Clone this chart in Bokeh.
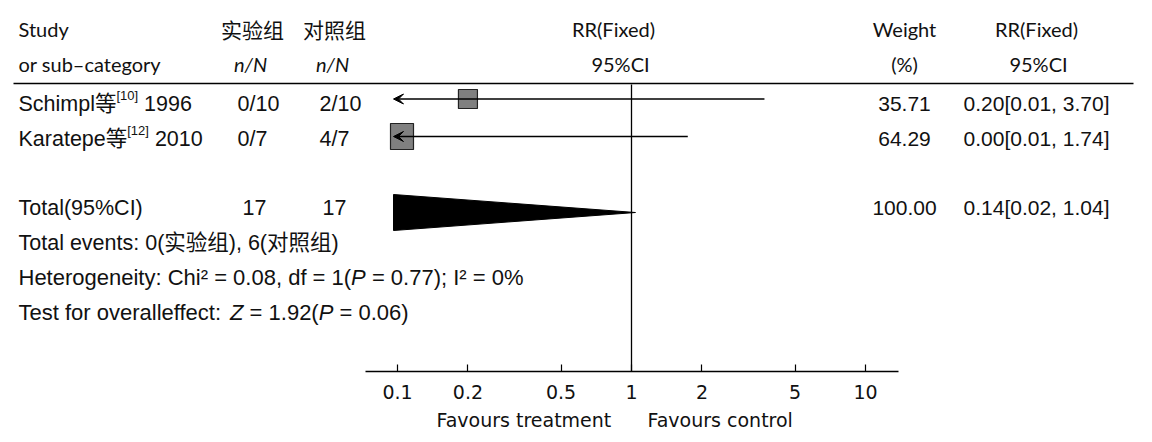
from bokeh.plotting import figure
from bokeh.models import (Range1d, LogScale, LogAxis, FixedTicker, CustomJSTickFormatter,
                          ColumnDataSource, Arrow, VeeHead, Title)
from bokeh.core.properties import value
from bokeh.embed import file_html
from bokeh.resources import INLINE

# ---------------- data ----------------
study_names = ["Schimpl等", "Karatepe等"]
study_refs = ["[10]", "[12]"]
study_years = ["1996", "2010"]
exp_events = [0, 0]
exp_total = [10, 7]
ctrl_events = [2, 4]
ctrl_total = [10, 7]
weights = [35.71, 64.29]
rr = [0.20, 0.00]
rr_lo = [0.01, 0.01]
rr_hi = [3.70, 1.74]

total_exp = 17
total_ctrl = 17
total_weight = 100.00
total_rr = 0.14
total_lo = 0.02
total_hi = 1.04
events_exp = 0
events_ctrl = 6
chi2 = 0.08
df = 1
p_het = 0.77
i2 = 0
z_val = 1.92
p_overall = 0.06

tick_values = [0.1, 0.2, 0.5, 1, 2, 5, 10]
tick_labels = ["0.1", "0.2", "0.5", "1", "2", "5", "10"]

# ---------------- layout ----------------
FIG_W, FIG_H = 1136, 440
FRAME_BOTTOM = 371
PX_DEC = 234.0   # pixels per decade
X_ONE = 631.0    # x of RR = 1


def px_to_rr(px):
    return 10 ** ((px - X_ONE) / PX_DEC)


CLIP = px_to_rr(393)

# Arial / Liberation Sans advance widths (per 1000 em)
AW = {" ": 278, "%": 889, "(": 333, ")": 333, ",": 278, "-": 333, ".": 278, "/": 278,
      ":": 278, ";": 278, "=": 584, "[": 278, "]": 278, "²": 333}
for ch in "0123456789":
    AW[ch] = 556
for ch, w in zip("ABCDEFGHIJKLMNOPQRSTUVWXYZ",
                 [667, 667, 722, 722, 667, 611, 778, 722, 278, 500, 667, 556, 833, 722, 778,
                  667, 778, 722, 667, 611, 722, 667, 944, 667, 667, 611]):
    AW[ch] = w
for ch, w in zip("abcdefghijklmnopqrstuvwxyz",
                 [556, 556, 500, 556, 556, 278, 556, 556, 222, 222, 500, 222, 833, 556, 556,
                  556, 556, 333, 500, 278, 556, 500, 722, 500, 500, 500]):
    AW[ch] = w


def tw(s, size):
    return sum(AW.get(c, 1000) for c in s) * size / 1000.0


p = figure(width=FIG_W, height=FIG_H, x_range=Range1d(0, FIG_W), y_range=Range1d(FRAME_BOTTOM, 0),
           output_backend="svg", toolbar_location=None,
           x_axis_location=None, y_axis_location=None,
           min_border_left=0, min_border_right=0, min_border_top=0,
           min_border_bottom=FIG_H - FRAME_BOTTOM)
p.outline_line_color = None
p.grid.visible = False
p.background_fill_color = "white"
p.border_fill_color = "white"

p.extra_x_ranges = {"rr": Range1d(px_to_rr(0), px_to_rr(FIG_W))}
p.extra_x_scales = {"rr": LogScale()}

ax = LogAxis(x_range_name="rr",
             ticker=FixedTicker(ticks=tick_values, minor_ticks=[]),
             formatter=CustomJSTickFormatter(args=dict(vals=tick_values, labels=tick_labels),
                                             code="""
const i = vals.findIndex(v => Math.abs(v - tick) < 1e-6 * Math.max(1, v));
return i >= 0 ? labels[i] : '';
"""),
             bounds=(px_to_rr(365), px_to_rr(898)),
             major_tick_in=7, major_tick_out=0, minor_tick_in=0, minor_tick_out=0,
             axis_line_color="black", axis_line_width=1.3,
             major_tick_line_color="black", major_tick_line_width=1.2,
             major_label_text_font="DejaVu Sans",
             major_label_text_font_size="19px",
             major_label_text_color="#111111",
             major_label_standoff=13)
p.add_layout(ax, "below")

fav = Title(text="Favours treatment" + "\u00a0" * 6 + "Favours control",
            align="left", offset=436, standoff=10,
            text_font="DejaVu Sans", text_font_size="19px", text_font_style="normal",
            text_color="#111111")
p.add_layout(fav, "below")

# rules
p.segment(x0=[13], x1=[1133], y0=[83], y1=[83], line_color="black", line_width=1.4)
p.segment(x0=[1], x1=[1], y0=[84], y1=[FRAME_BOTTOM], x_range_name="rr",
          line_color="black", line_width=1.3)

# squares
mark_y = [98.5, 136]
sq_w = [19, 23]
sq_h = [19, 26]
sq_x = [r if r >= CLIP else CLIP * 10 ** ((w / 2 - 3) / PX_DEC) for r, w in zip(rr, sq_w)]
p.rect(x=sq_x, y=mark_y, width=sq_w, height=sq_h, width_units="screen", height_units="screen",
       x_range_name="rr", fill_color="#808080", line_color="#222222", line_width=1.2)

# CI lines
arrow_src = dict(xs=[], xe=[], y=[])
seg_src = dict(x0=[], x1=[], y=[])
for lo, hi, y in zip(rr_lo, rr_hi, mark_y):
    if lo < CLIP:
        arrow_src["xs"].append(hi)
        arrow_src["xe"].append(CLIP)
        arrow_src["y"].append(y)
    else:
        seg_src["x0"].append(lo)
        seg_src["x1"].append(hi)
        seg_src["y"].append(y)
if seg_src["y"]:
    p.segment(x0="x0", x1="x1", y0="y", y1="y", source=ColumnDataSource(seg_src),
              x_range_name="rr", line_color="black", line_width=1.3)
if arrow_src["y"]:
    p.add_layout(Arrow(end=VeeHead(size=10, fill_color="black", line_color="black", line_width=1),
                       x_start="xs", x_end="xe", y_start="y", y_end="y",
                       source=ColumnDataSource(arrow_src), x_range_name="rr",
                       line_color="black", line_width=1.3))

# total triangle
tot_y = 212
half_h = 18
tlo = max(total_lo, CLIP)
p.patch(x=[tlo, tlo, total_hi], y=[tot_y - half_h, tot_y + half_h, tot_y], x_range_name="rr",
        fill_color="black", line_color="black")

# ---------------- texts ----------------
LATO = "Lato, Noto Sans CJK SC"
ARIAL = "Liberation Sans, Noto Sans CJK SC"
CJK = "Noto Sans CJK SC"
items = []  # (x, y, text, font, size, style, align)


def T(x, y, s, font=ARIAL, size=21.5, style="normal", align="left"):
    items.append((x, y, s, font, f"{size}px", style, align))


# header
H1, H2 = 28, 63
T(18, H1, "Study", LATO, 20)
T(18, H2, "or sub–category", LATO, 20)
T(252, H1, "实验组", CJK, 21, align="center")
T(334, H1, "对照组", CJK, 21, align="center")
T(250, H2, "n/N", LATO, 20, style="italic", align="center")
T(332, H2, "n/N", LATO, 20, style="italic", align="center")
T(613, H1, "RR(Fixed)", LATO, 20, align="center")
T(620, H2, "95%CI", LATO, 20, align="center")
T(904, H1, "Weight", LATO, 20, align="center")
T(904, H2, "(%)", LATO, 20, align="center")
T(1036, H1, "RR(Fixed)", LATO, 20, align="center")
T(1038, H2, "95%CI", LATO, 20, align="center")

# study rows
RS = 21.5
SUP = 13
row_base = [103, 138]
for i in range(len(study_names)):
    yb = row_base[i]
    x = 18
    T(x, yb, study_names[i], size=RS)
    x += tw(study_names[i], RS)
    T(x, yb - 8, study_refs[i], size=SUP)
    x += tw(study_refs[i], SUP) + tw(" ", RS)
    T(x, yb, study_years[i], size=RS)
    T(237, yb, f"{exp_events[i]}/{exp_total[i]}", size=RS)
    T(319, yb, f"{ctrl_events[i]}/{ctrl_total[i]}", size=RS)
    T(904, yb, f"{weights[i]:.2f}", size=21, align="center")
    T(1036, yb, f"{rr[i]:.2f}[{rr_lo[i]:.2f}, {rr_hi[i]:.2f}]", size=21, align="center")

# total row
TY = 207
T(18, TY, "Total(95%CI)", size=RS)
T(242, TY, f"{total_exp}", size=RS)
T(322, TY, f"{total_ctrl}", size=RS)
T(904, TY, f"{total_weight:.2f}", size=21, align="center")
T(1036, TY, f"{total_rr:.2f}[{total_lo:.2f}, {total_hi:.2f}]", size=21, align="center")

# footer
FS = 22
T(18, 242, f"Total events: {events_exp}(实验组), {events_ctrl}(对照组)", size=21.5)


def flow(y, pieces):
    x = 18
    for s, style, gap in pieces:
        T(x, y, s, size=FS, style=style)
        x += tw(s, FS) + gap * tw(" ", FS)


flow(277, [(f"Heterogeneity: Chi² = {chi2:.2f}, df = {df}(", "normal", 0),
           ("P", "italic", 1),
           (f"= {p_het:.2f}); I² = {i2}%", "normal", 0)])
flow(312, [("Test for overalleffect:", "normal", 1),
           ("Z", "italic", 1),
           (f"= {z_val:.2f}(", "normal", 0),
           ("P", "italic", 1),
           (f"= {p_overall:.2f})", "normal", 0)])

groups = {}
for x, y, s, font, size, style, align in items:
    g = groups.setdefault((font, size, style, align), dict(x=[], y=[], text=[]))
    g["x"].append(x)
    g["y"].append(y)
    g["text"].append(s)
for (font, size, style, align), d in groups.items():
    p.text(x="x", y="y", text="text", source=ColumnDataSource(d),
           text_font=value(font), text_font_size=size, text_font_style=style,
           text_align=align, text_baseline="alphabetic", text_color="#111111")

open("out.html", "w").write(file_html(p, INLINE))
